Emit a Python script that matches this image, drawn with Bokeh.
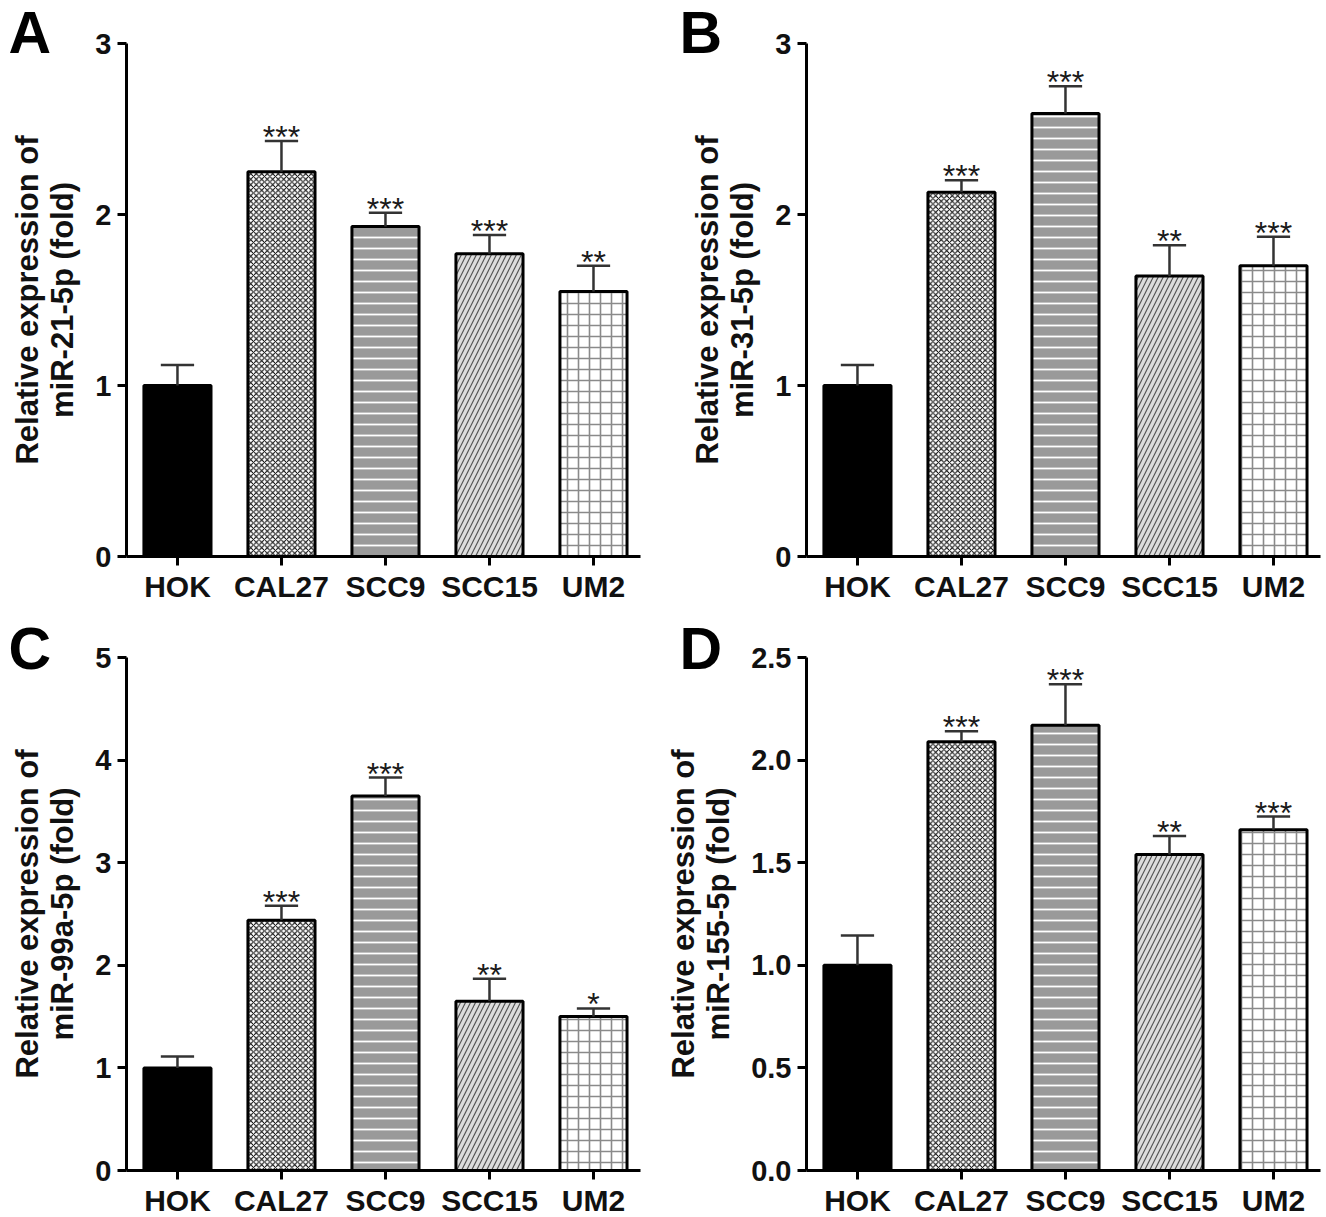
from bokeh.plotting import figure
from bokeh.layouts import gridplot
from bokeh.models import Range1d, FixedTicker, Label, ColumnDataSource, NumeralTickFormatter
from bokeh.core.properties import value
from bokeh.embed import file_html
from bokeh.resources import INLINE

# ---------------- data ----------------
cells = ["HOK", "CAL27", "SCC9", "SCC15", "UM2"]

mir21_mean = [1.00, 2.25, 1.93, 1.77, 1.55]
mir21_sd = [0.12, 0.18, 0.08, 0.11, 0.15]
mir21_sig = ["", "***", "***", "***", "**"]

mir31_mean = [1.00, 2.13, 2.59, 1.64, 1.70]
mir31_sd = [0.12, 0.07, 0.16, 0.18, 0.17]
mir31_sig = ["", "***", "***", "**", "***"]

mir99a_mean = [1.00, 2.44, 3.65, 1.65, 1.50]
mir99a_sd = [0.11, 0.14, 0.18, 0.22, 0.08]
mir99a_sig = ["", "***", "***", "**", "*"]

mir155_mean = [1.00, 2.09, 2.17, 1.54, 1.66]
mir155_sd = [0.145, 0.05, 0.20, 0.09, 0.065]
mir155_sig = ["", "***", "***", "**", "***"]

# ---------------- styles ----------------
fill_colors = ["#000000", "#ffffff", "#9a9a9a", "#dddddd", "#ffffff"]
hatch_patterns = [" ", "diagonal_cross", "horizontal_line", "right_diagonal_line", "cross"]
hatch_colors = ["#000000", "#000000", "#ffffff", "#555555", "#8a8a8a"]
hatch_scales = [10, 5.5, 11, 10, 11]
hatch_weights = [1, 1.0, 1.8, 1.2, 1.6]

FONT = "Liberation Sans"
XMIN, XMAX = -0.49, 4.452
PX_PER_X = 104.0


def make_panel(mean, sd, sig, ylabel, ymax, yticks, fmt, letter,
               bl, br, bt, bb, letter_dx, letter_up):
    fw, fh = 514, 513
    p = figure(frame_width=fw, frame_height=fh,
               min_border_left=bl, min_border_right=br,
               min_border_top=bt, min_border_bottom=bb,
               x_range=Range1d(XMIN, XMAX), y_range=Range1d(0, ymax),
               output_backend="svg", toolbar_location=None, tools="")
    p.outline_line_color = None
    p.grid.visible = False
    p.background_fill_color = "white"

    xs = list(range(len(cells)))
    tops = [m + s for m, s in zip(mean, sd)]
    src = ColumnDataSource(dict(
        x=xs, top=mean, err=tops, sig=sig,
        cap0=[x - 0.16 for x in xs], cap1=[x + 0.16 for x in xs],
        fill=fill_colors, hp=hatch_patterns, hc=hatch_colors,
        hs=hatch_scales, hw=hatch_weights))

    p.vbar(x="x", top="top", bottom=0, width=0.645, source=src,
           fill_color="fill", hatch_pattern="hp", hatch_color="hc",
           hatch_scale="hs", hatch_weight="hw",
           line_color="black", line_width=3)
    p.segment(x0="x", y0="top", x1="x", y1="err", source=src,
              line_color="#333333", line_width=2.5)
    p.segment(x0="cap0", y0="err", x1="cap1", y1="err", source=src,
              line_color="#333333", line_width=2.5)
    p.text(x="x", y="err", text="sig", source=src,
           text_align="center", text_baseline="alphabetic", y_offset=-4,
           text_font=value(FONT), text_font_size="32px", text_color="#1a1a1a")

    for ax in (p.xaxis[0], p.yaxis[0]):
        ax.axis_line_width = 3
        ax.axis_line_color = "black"
        ax.major_tick_line_width = 3
        ax.major_tick_in = 0
        ax.major_tick_out = 9
        ax.minor_tick_line_color = None
        ax.major_label_text_font = FONT
        ax.major_label_text_font_style = "bold"
        ax.major_label_text_font_size = "29px"
        ax.major_label_text_color = "#111111"
    p.xaxis.major_label_text_font_size = "30px"

    p.xaxis.ticker = FixedTicker(ticks=xs)
    p.xaxis.major_label_overrides = {i: c for i, c in enumerate(cells)}
    p.xaxis.major_label_standoff = 4

    p.yaxis.ticker = FixedTicker(ticks=yticks)
    p.yaxis.formatter = NumeralTickFormatter(format=fmt)
    p.yaxis.major_label_standoff = 6
    p.yaxis.axis_label = ylabel
    p.yaxis.axis_label_text_font = FONT
    p.yaxis.axis_label_text_font_style = "bold"
    p.yaxis.axis_label_text_font_size = "31px"
    p.yaxis.axis_label_text_line_height = 1.0
    p.yaxis.axis_label_text_color = "#111111"
    p.yaxis.axis_label_standoff = 12

    # panel letter: placed in the top border (not clipped by the frame);
    # the trailing blank line with negative line height keeps its layout box small
    py = fh / ymax
    lab = Label(x=XMIN + letter_dx / PX_PER_X, y=ymax + letter_up / py,
                text=letter + "\n", text_font=FONT, text_font_style="bold",
                text_font_size="59px", text_color="black",
                text_baseline="alphabetic", text_line_height=-0.5)
    p.add_layout(lab, "above")
    return p


pA = make_panel(mir21_mean, mir21_sd, mir21_sig,
                "Relative expression of\nmiR-21-5p (fold)", 3, [0, 1, 2, 3], "0",
                "A", 126, 23, 43, 50, -118, 27)
pB = make_panel(mir31_mean, mir31_sd, mir31_sig,
                "Relative expression of\nmiR-31-5p (fold)", 3, [0, 1, 2, 3], "0",
                "B", 140, 9, 43, 50, -127, 27)
pC = make_panel(mir99a_mean, mir99a_sd, mir99a_sig,
                "Relative expression of\nmiR-99a-5p (fold)", 5, [0, 1, 2, 3, 4, 5], "0",
                "C", 126, 23, 51, 42, -118, 25)
pD = make_panel(mir155_mean, mir155_sd, mir155_sig,
                "Relative expression of\nmiR-155-5p (fold)", 2.5, [0, 0.5, 1, 1.5, 2, 2.5], "0.0",
                "D", 140, 9, 51, 42, -127, 25)

grid = gridplot([[pA, pB], [pC, pD]], toolbar_location=None)

open("out.html", "w").write(file_html(grid, INLINE))
